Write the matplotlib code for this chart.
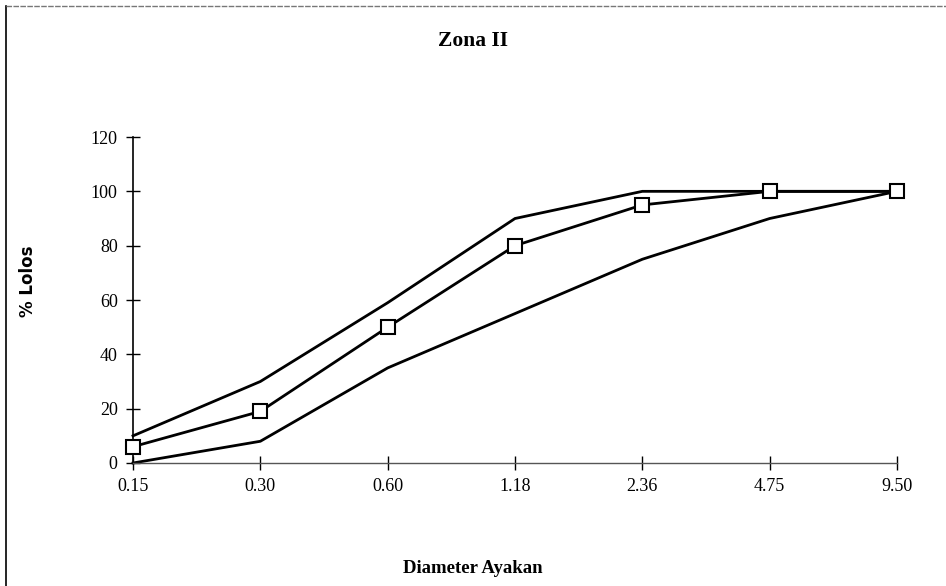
import matplotlib
matplotlib.use("Agg")
import matplotlib.pyplot as plt
from matplotlib.lines import Line2D

sizes = ['0.15', '0.30', '0.60', '1.18', '2.36', '4.75', '9.50']
upper = [10, 30, 59, 90, 100, 100, 100]
passing = [6, 19, 50, 80, 95, 100, 100]
lower = [0, 8, 35, 55, 75, 90, 100]
yticks = [0, 20, 40, 60, 80, 100, 120]

fig = plt.figure(figsize=(9.46, 5.86), dpi=100)
ax = fig.add_axes([0.1406, 0.2099, 0.8076, 0.5563])

x = list(range(len(sizes)))
ax.plot(x, upper, color='black', lw=2, clip_on=False)
ax.plot(x, lower, color='black', lw=2, clip_on=False)
ax.plot(x, passing, color='black', lw=2, marker='s', markersize=10,
        markerfacecolor='white', markeredgecolor='black', markeredgewidth=1.5,
        clip_on=False, zorder=5)

ax.set_xlim(0, 6)
ax.set_ylim(0, 120)
ax.set_xticks(x)
ax.set_xticklabels(sizes)
ax.set_yticks(yticks)
for s in ['top', 'right']:
    ax.spines[s].set_visible(False)
ax.spines['left'].set_linewidth(1.2)
ax.spines['bottom'].set_linewidth(1.0)
ax.spines['bottom'].set_color('#555555')
ax.tick_params(direction='inout', length=10, width=1, labelsize=13, pad=6)
for lab in ax.get_xticklabels() + ax.get_yticklabels():
    lab.set_fontfamily('Liberation Serif')

fig.text(0.5, 0.93, 'Zona II', ha='center', va='center', fontsize=15.5,
         fontweight='bold', family='Liberation Serif')
fig.text(0.5, 0.03, 'Diameter Ayakan', ha='center', va='center', fontsize=13.5,
         fontweight='bold', family='Liberation Serif')
fig.text(0.03, 0.52, '% Lolos', ha='center', va='center', rotation=90,
         fontsize=12, fontweight='bold', family='DejaVu Sans')

# scanned page frame: left edge and top edge
fig.add_artist(Line2D([0.006, 0.006], [0.0, 0.99], color='black', lw=1.2))
fig.add_artist(Line2D([0.006, 1.0], [0.99, 0.99], color='#777777', lw=1, ls=(0, (4, 1))))

fig.savefig('out.png', dpi=100)
